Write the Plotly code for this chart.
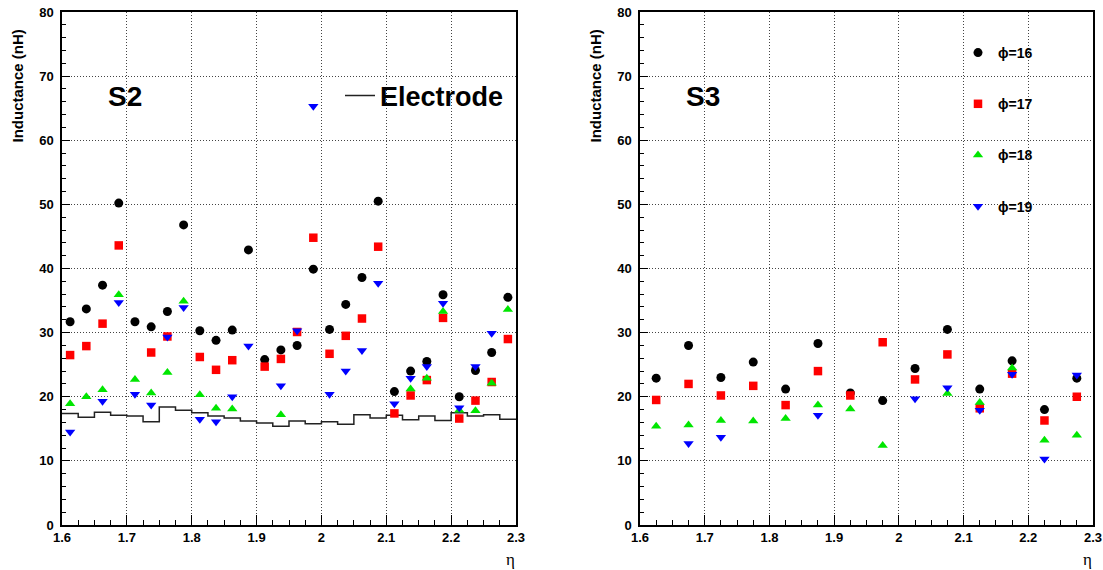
import plotly.graph_objects as go

# ---------------- data ----------------
# S2: eta bin centres (bin width 0.025)
s2_eta = [1.6125, 1.6375, 1.6625, 1.6875, 1.7125, 1.7375, 1.7625, 1.7875, 1.8125, 1.8375,
          1.8625, 1.8875, 1.9125, 1.9375, 1.9625, 1.9875, 2.0125, 2.0375, 2.0625, 2.0875,
          2.1125, 2.1375, 2.1625, 2.1875, 2.2125, 2.2375, 2.2625, 2.2875]
s2_phi16 = [31.7, 33.7, 37.4, 50.2, 31.7, 30.9, 33.3, 46.8, 30.3, 28.8, 30.4, 42.9, 25.8, 27.3,
            28.0, 39.9, 30.5, 34.4, 38.6, 50.5, 20.8, 24.0, 25.5, 35.9, 20.0, 24.1, 26.9, 35.5]
s2_phi17 = [26.5, 27.9, 31.4, 43.6, None, 26.9, 29.4, None, 26.2, 24.2, 25.7, None, 24.7, 25.9,
            30.1, 44.8, 26.7, 29.5, 32.2, 43.4, 17.4, 20.2, 22.6, 32.3, 16.6, 19.4, 22.3, 29.0]
s2_phi18 = [18.9, 20.0, 21.1, 35.9, 22.7, 20.6, 23.8, 34.9, 20.3, 18.2, 18.1, None, None, 17.2,
            None, None, None, None, None, None, None, 21.2, 22.9, 33.3, 17.9, 17.8, 22.1, 33.6]
s2_phi19 = [14.5, None, 19.3, 34.7, 20.4, 18.7, 29.3, 33.9, 16.5, 16.1, 20.0, 27.9, None, 21.7,
            30.3, 65.3, 20.4, 24.0, 27.2, 37.7, 18.9, 22.9, 24.7, 34.6, 18.3, 24.7, 29.9, None]

# S2 electrode inductance (histogram, bin edges)
electrode_edges = [1.600, 1.625, 1.650, 1.675, 1.700, 1.725, 1.750, 1.775, 1.800, 1.825,
                   1.850, 1.875, 1.900, 1.925, 1.950, 1.975, 2.000, 2.025, 2.050, 2.075,
                   2.100, 2.125, 2.150, 2.175, 2.200, 2.225, 2.250, 2.275, 2.300]
electrode_L = [17.4, 16.8, 17.6, 17.1, 17.0, 16.1, 18.4, 17.9, 17.5, 17.0, 16.7, 16.2, 15.9, 15.4,
               16.2, 15.8, 16.1, 15.7, 17.2, 16.7, 17.1, 16.4, 17.0, 16.3, 17.5, 17.0, 17.2, 16.5]

# S3: eta bin centres (bin width 0.05)
s3_eta = [1.625, 1.675, 1.725, 1.775, 1.825, 1.875, 1.925, 1.975, 2.025, 2.075, 2.125, 2.175,
          2.225, 2.275]
s3_phi16 = [22.9, 28.0, 23.0, 25.4, 21.2, 28.3, 20.6, 19.4, 24.4, 30.5, 21.2, 25.6, 18.0, 22.9]
s3_phi17 = [19.5, 22.0, 20.2, 21.7, 18.7, 24.0, 20.2, 28.5, 22.7, 26.6, 18.2, 23.6, 16.3, 20.0]
s3_phi18 = [15.4, 15.6, 16.3, 16.2, 16.6, 18.7, 18.1, 12.4, None, 20.5, 19.1, 24.5, 13.2, 14.0]
s3_phi19 = [None, 12.7, 13.7, None, None, 17.1, None, None, 19.7, 21.4, 17.9, 23.5, 10.3, 23.4]

phi_labels = ["ϕ=16", "ϕ=17", "ϕ=18", "ϕ=19"]
x_ticks = [1.6, 1.7, 1.8, 1.9, 2.0, 2.1, 2.2, 2.3]
x_tick_text = ["1.6", "1.7", "1.8", "1.9", "2", "2.1", "2.2", "2.3"]

# ---------------- styles ----------------
FONT = "Liberation Sans, Arial, Helvetica, sans-serif"
styles = [
    dict(symbol="circle", color="#000000", size=9),
    dict(symbol="square", color="#ff0000", size=8.5),
    dict(symbol="triangle-up", color="#00e600", size=9),
    dict(symbol="triangle-down", color="#0000ff", size=9),
]

fig = go.Figure()

# electrode histogram (step line)
fig.add_trace(go.Scatter(
    x=electrode_edges, y=electrode_L + [electrode_L[-1]],
    mode="lines", line=dict(color="#222222", width=1.5, shape="hv"),
    name="Electrode", legend="legend2", showlegend=True,
    xaxis="x", yaxis="y"))

for series, st in zip([s2_phi16, s2_phi17, s2_phi18, s2_phi19], styles):
    fig.add_trace(go.Scatter(
        x=s2_eta, y=series, mode="markers",
        marker=dict(symbol=st["symbol"], color=st["color"], size=st["size"], line=dict(width=0)),
        showlegend=False, xaxis="x", yaxis="y"))

for i, (series, st) in enumerate(zip([s3_phi16, s3_phi17, s3_phi18, s3_phi19], styles)):
    fig.add_trace(go.Scatter(
        x=s3_eta, y=series, mode="markers", name=phi_labels[i],
        legendgroup="g%d" % i,
        marker=dict(symbol=st["symbol"], color=st["color"], size=st["size"], line=dict(width=0)),
        showlegend=True, xaxis="x2", yaxis="y2"))

W, H = 1103, 570
T, B = 12, 45
plot_h = H - T - B


def px_x(p):
    return p / W


def px_y(p):
    return (H - B - p) / plot_h


xax = dict(
    range=[1.6, 2.3], tickvals=x_ticks, ticktext=x_tick_text,
    ticks="inside", ticklen=10, tickwidth=1, tickcolor="black",
    minor=dict(dtick=0.025, tick0=1.6, ticks="inside", ticklen=5, tickcolor="black", showgrid=False),
    showline=True, linecolor="black", linewidth=1.5, mirror=True,
    showgrid=True, gridcolor="#444444", griddash="1px,2px", gridwidth=1,
    zeroline=False, automargin=False,
    tickfont=dict(family=FONT, size=13, color="black", weight="bold"),
)
yax = dict(
    range=[0, 80], dtick=10,
    ticks="inside", ticklen=8, tickwidth=1, tickcolor="black",
    minor=dict(dtick=2, ticks="inside", ticklen=4, tickcolor="black", showgrid=False),
    showline=True, linecolor="black", linewidth=1.5, mirror=True,
    showgrid=True, gridcolor="#444444", griddash="1px,2px", gridwidth=1,
    zeroline=False, automargin=False,
    tickfont=dict(family=FONT, size=13, color="black", weight="bold"),
    ticklabelstandoff=4,
)

fig.update_layout(
    width=W, height=H, autosize=False,
    margin=dict(l=0, r=0, t=T, b=B, pad=0),
    paper_bgcolor="white", plot_bgcolor="white",
    xaxis=dict(xax, domain=[px_x(62), px_x(516)], anchor="y"),
    yaxis=dict(yax, domain=[0, 1], anchor="x"),
    xaxis2=dict(xax, domain=[px_x(640), px_x(1093)], anchor="y2"),
    yaxis2=dict(yax, domain=[0, 1], anchor="x2"),
    legend=dict(
        x=px_x(958), y=px_y(37), xanchor="left", yanchor="top",
        bgcolor="rgba(0,0,0,0)", borderwidth=0,
        font=dict(family=FONT, size=14, color="black", weight="bold"),
        tracegroupgap=30, traceorder="grouped",
    ),
    legend2=dict(
        x=px_x(340), y=px_y(96), xanchor="left", yanchor="middle",
        bgcolor="rgba(0,0,0,0)", borderwidth=0,
        font=dict(family=FONT, size=27, color="black", weight="bold"),
    ),
    showlegend=True,
)

annots = [
    dict(text="<b>S2</b>", x=px_x(125), y=px_y(96), font=dict(family=FONT, size=28, color="black")),
    dict(text="<b>S3</b>", x=px_x(703), y=px_y(96), font=dict(family=FONT, size=28, color="black")),
    dict(text="<b>Inductance (nH)</b>", x=px_x(17), y=px_y(28), yanchor="top", textangle=-90,
         font=dict(family=FONT, size=15, color="black")),
    dict(text="<b>Inductance (nH)</b>", x=px_x(595), y=px_y(28), yanchor="top", textangle=-90,
         font=dict(family=FONT, size=15, color="black")),
    dict(text="η", x=px_x(510), y=px_y(559), font=dict(family="Liberation Serif, serif", size=17, color="black")),
    dict(text="η", x=px_x(1087), y=px_y(559), font=dict(family="Liberation Serif, serif", size=17, color="black")),
]
for a in annots:
    a.setdefault("xanchor", "center")
    a.setdefault("yanchor", "middle")
    fig.add_annotation(xref="paper", yref="paper", showarrow=False, **a)

fig.write_html("out.html", config={"displayModeBar": False},
               post_script="document.body.style.margin='0';document.body.style.padding='0';")
